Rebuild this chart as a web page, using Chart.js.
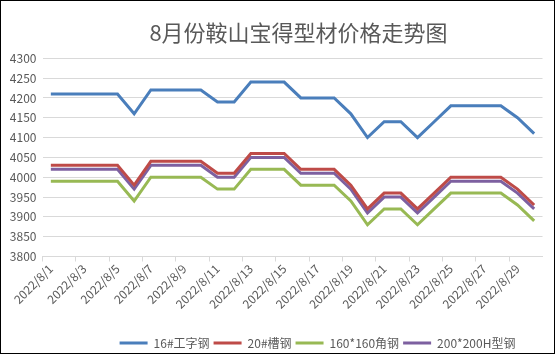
<!DOCTYPE html>
<html>
<head>
<meta charset="utf-8">
<script src="https://cdn.jsdelivr.net/npm/chart.js@4/dist/chart.umd.min.js"></script>
<style>
  html, body { margin: 0; padding: 0; background: #fff; }
  #wrap { width: 555px; height: 354px; box-sizing: border-box; border: 1px solid #000; background: #fff; }
  canvas { display: block; }
</style>
</head>
<body>
<div id="wrap"><canvas id="c" width="553" height="352"></canvas></div>
<script>
const chartTitle = '8月份鞍山宝得型材价格走势图';
const categories = [
  '2022/8/1','2022/8/2','2022/8/3','2022/8/4','2022/8/5','2022/8/6','2022/8/7','2022/8/8','2022/8/9','2022/8/10',
  '2022/8/11','2022/8/12','2022/8/13','2022/8/14','2022/8/15','2022/8/16','2022/8/17','2022/8/18','2022/8/19','2022/8/20',
  '2022/8/21','2022/8/22','2022/8/23','2022/8/24','2022/8/25','2022/8/26','2022/8/27','2022/8/28','2022/8/29','2022/8/30'
];
const seriesNames = ['16#工字钢', '20#槽钢', '160*160角钢', '200*200H型钢'];
const iBeam16 = [4210,4210,4210,4210,4210,4160,4220,4220,4220,4220,4190,4190,4240,4240,4240,4200,4200,4200,4160,4100,4140,4140,4100,4140,4180,4180,4180,4180,4150,4110];
const channel20 = [4030,4030,4030,4030,4030,3980,4040,4040,4040,4040,4010,4010,4060,4060,4060,4020,4020,4020,3980,3920,3960,3960,3920,3960,4000,4000,4000,4000,3970,3930];
const angle160 = [3990,3990,3990,3990,3990,3940,4000,4000,4000,4000,3970,3970,4020,4020,4020,3980,3980,3980,3940,3880,3920,3920,3880,3920,3960,3960,3960,3960,3930,3890];
const hBeam200 = [4020,4020,4020,4020,4020,3970,4030,4030,4030,4030,4000,4000,4050,4050,4050,4010,4010,4010,3970,3910,3950,3950,3910,3950,3990,3990,3990,3990,3960,3920];
const yTicks = [3800,3850,3900,3950,4000,4050,4100,4150,4200,4250,4300];

const colors = ['#4A7EBB', '#BE4B48', '#98B954', '#7D60A0'];
const FONT = "'Noto Sans CJK SC', 'Noto Sans', sans-serif";
const TXT = '#595959';

const shiftPlugin = {
  id: 'shift',
  afterLayout(chart) {
    const t = chart.titleBlock; if (t) { t.left += 24; t.right += 24; }
    const l = chart.legend; if (l) { l.left += 43; l.right += 43; l.top += 6; l.bottom += 6; }
  }
};

new Chart(document.getElementById('c'), {
  type: 'line',
  data: {
    labels: categories,
    datasets: [iBeam16, channel20, angle160, hBeam200].map((d, i) => ({
      label: seriesNames[i],
      data: d,
      borderColor: colors[i],
      backgroundColor: colors[i],
      borderWidth: 3,
      pointRadius: 0,
      tension: 0,
      fill: false
    }))
  },
  options: {
    responsive: false,
    animation: false,
    layout: { padding: { left: 5.5, right: 11.5, top: 0, bottom: 0 } },
    plugins: {
      title: {
        display: true, text: chartTitle, color: TXT,
        font: { family: FONT, size: 22, weight: 'normal' },
        padding: { top: 18, bottom: 12.9 }
      },
      legend: {
        display: true, position: 'bottom',
        labels: {
          color: TXT, font: { family: FONT, size: 12 },
          boxWidth: 28, boxHeight: 3, padding: 4,
          generateLabels(chart) {
            return chart.data.datasets.map((ds, i) => ({
              text: ds.label, fillStyle: ds.borderColor, strokeStyle: ds.borderColor,
              lineWidth: 0, hidden: false, datasetIndex: i, fontColor: TXT
            }));
          }
        }
      },
      tooltip: { enabled: false }
    },
    scales: {
      x: {
        offset: true,
        grid: {
          offset: true, drawOnChartArea: false, drawTicks: true, tickLength: 5,
          color: ctx => (ctx.index % 2 === 0 ? '#D9D9D9' : 'rgba(0,0,0,0)')
        },
        border: { display: true, color: '#D9D9D9' },
        ticks: {
          autoSkip: false, maxRotation: 45, minRotation: 45, color: TXT,
          font: { family: FONT, size: 12 }, padding: 0,
          callback(v, i) { return i % 2 === 0 ? categories[i] : ''; }
        },
        afterFit(s) { s.height = 70.5; }
      },
      y: {
        min: 3800, max: 4300,
        afterBuildTicks(s) { s.ticks = yTicks.map(v => ({ value: v })); },
        grid: { color: '#D9D9D9', drawTicks: false },
        border: { display: false },
        ticks: { color: TXT, font: { family: FONT, size: 12 }, padding: 6, callback: v => String(v) },
        afterFit(s) { s.width = 36; }
      }
    }
  },
  plugins: [shiftPlugin]
});
</script>
</body>
</html>
